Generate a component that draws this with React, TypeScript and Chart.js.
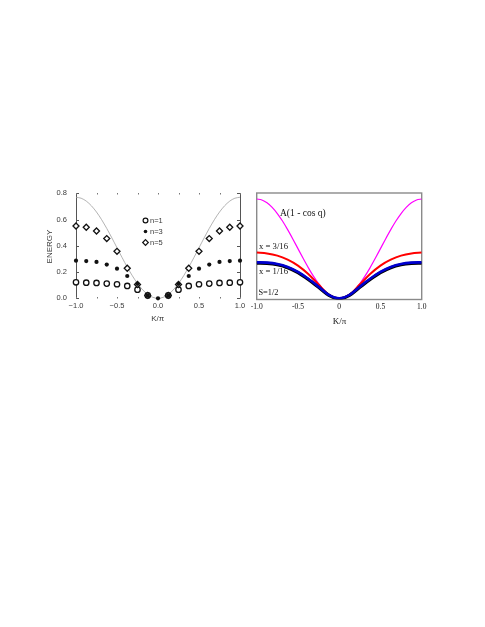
import React, { useEffect, useRef } from "react";
import { Chart, registerables } from "chart.js";
Chart.register(...registerables);

// ---------- left panel data ----------
const kPoints = [-1, -0.875, -0.75, -0.625, -0.5, -0.375, -0.25, -0.125, 0, 0.125, 0.25, 0.375, 0.5, 0.625, 0.75, 0.875, 1];
const n1Energy = [0.122, 0.119, 0.117, 0.112, 0.107, 0.094, 0.066, 0.022, null, 0.022, 0.066, 0.094, 0.107, 0.112, 0.117, 0.119, 0.122];
const n3Energy = [0.287, 0.284, 0.277, 0.257, 0.226, 0.17, 0.11, 0.022, 0.0, 0.022, 0.11, 0.17, 0.226, 0.257, 0.277, 0.284, 0.287];
const n5Energy = [0.551, 0.541, 0.513, 0.455, 0.358, 0.229, 0.105, 0.022, null, 0.022, 0.105, 0.229, 0.358, 0.455, 0.513, 0.541, 0.551];
const kFine = [-1, -0.9375, -0.875, -0.8125, -0.75, -0.6875, -0.625, -0.5625, -0.5, -0.4375, -0.375, -0.3125, -0.25, -0.1875, -0.125, -0.0625, 0,
  0.0625, 0.125, 0.1875, 0.25, 0.3125, 0.375, 0.4375, 0.5, 0.5625, 0.625, 0.6875, 0.75, 0.8125, 0.875, 0.9375, 1];
const cosCurveLeft = [0.77, 0.7626, 0.7407, 0.7051, 0.6572, 0.5989, 0.5323, 0.4601, 0.385, 0.3099, 0.2377, 0.1711, 0.1128, 0.0649, 0.0293, 0.0074, 0,
  0.0074, 0.0293, 0.0649, 0.1128, 0.1711, 0.2377, 0.3099, 0.385, 0.4601, 0.5323, 0.5989, 0.6572, 0.7051, 0.7407, 0.7626, 0.77];
const leftXTicks = [-1, -0.5, 0, 0.5, 1];
const leftYTicks = [0, 0.2, 0.4, 0.6, 0.8];
const leftMinorX = [-0.75, -0.25, 0.25, 0.75];
const legendLabels = ["n=1", "n=3", "n=5"];

// ---------- right panel data ----------
const cosCurveRight = [0.943, 0.9339, 0.9071, 0.8635, 0.8049, 0.7335, 0.6519, 0.5635, 0.4715, 0.3795, 0.2911, 0.2095, 0.1381, 0.0795, 0.0359, 0.0091, 0,
  0.0091, 0.0359, 0.0795, 0.1381, 0.2095, 0.2911, 0.3795, 0.4715, 0.5635, 0.6519, 0.7335, 0.8049, 0.8635, 0.9071, 0.9339, 0.943];
const x316 = [0.434, 0.426, 0.405, 0.366, 0.31, 0.23, 0.13, 0.035, 0, 0.035, 0.13, 0.23, 0.31, 0.366, 0.405, 0.426, 0.434];
const x116 = [0.341, 0.338, 0.325, 0.297, 0.25, 0.185, 0.11, 0.032, 0, 0.032, 0.11, 0.185, 0.25, 0.297, 0.325, 0.338, 0.341];
const x116Under = [0.334, 0.331, 0.318, 0.29, 0.243, 0.178, 0.104, 0.028, -0.004, 0.028, 0.104, 0.178, 0.243, 0.29, 0.318, 0.331, 0.334];
const rightXTicks = [-1, -0.5, 0, 0.5, 1];

const SANS = '"Liberation Sans", Arial, Helvetica, sans-serif';
const SERIF = '"Liberation Serif", "Times New Roman", serif';
const GRAY_TEXT = "#3a3a3a";

function pts(xs: number[], ys: (number | null)[]) {
  const out: { x: number; y: number }[] = [];
  xs.forEach((x, i) => {
    const y = ys[i];
    if (y !== null && y !== undefined) out.push({ x, y });
  });
  return out;
}

function line(ctx: CanvasRenderingContext2D, x1: number, y1: number, x2: number, y2: number) {
  ctx.beginPath();
  ctx.moveTo(x1, y1);
  ctx.lineTo(x2, y2);
  ctx.stroke();
}

const leftDecor = {
  id: "leftDecor",
  beforeDatasetsDraw(chart: any) {
    const { ctx, scales } = chart;
    const x = scales.x, y = scales.y;
    const xl = x.getPixelForValue(-1), xr = x.getPixelForValue(1);
    const yt = y.getPixelForValue(0.8), yb = y.getPixelForValue(0);
    ctx.save();
    ctx.strokeStyle = "#555";
    ctx.lineWidth = 1;
    line(ctx, Math.round(xl) + 0.5, yt, Math.round(xl) + 0.5, yb);
    line(ctx, Math.round(xr) + 0.5, yt, Math.round(xr) + 0.5, yb);
    leftYTicks.forEach((v) => {
      const py = Math.round(y.getPixelForValue(v)) + 0.5;
      line(ctx, xl, py, xl + 3, py);
      line(ctx, xr - 3, py, xr, py);
    });
    ctx.fillStyle = "#777";
    [...leftXTicks, ...leftMinorX].forEach((v) => {
      const px = Math.round(x.getPixelForValue(v));
      ctx.fillRect(px, Math.round(yt), 1, 1.5);
      ctx.fillRect(px, Math.round(yb) - 1, 1, 1.5);
    });
    ctx.restore();
  },
  afterDraw(chart: any) {
    const { ctx } = chart;
    ctx.save();
    ctx.fillStyle = GRAY_TEXT;
    ctx.textAlign = "center";
    ctx.textBaseline = "middle";
    ctx.font = `8px ${SANS}`;
    ctx.fillText("K/\u03c0", 157.8, 318.5);
    ctx.translate(49.5, 246.5);
    ctx.rotate(-Math.PI / 2);
    ctx.fillText("ENERGY", 0, 0);
    ctx.restore();

    // legend
    ctx.save();
    const lx = 145.5;
    const ly = [220.5, 231.5, 242.5];
    ctx.strokeStyle = "#111";
    ctx.fillStyle = "#111";
    ctx.lineWidth = 1.2;
    ctx.beginPath();
    ctx.arc(lx, ly[0], 2.4, 0, Math.PI * 2);
    ctx.stroke();
    ctx.beginPath();
    ctx.arc(lx, ly[1], 1.8, 0, Math.PI * 2);
    ctx.fill();
    ctx.beginPath();
    ctx.moveTo(lx, ly[2] - 2.8);
    ctx.lineTo(lx + 2.8, ly[2]);
    ctx.lineTo(lx, ly[2] + 2.8);
    ctx.lineTo(lx - 2.8, ly[2]);
    ctx.closePath();
    ctx.stroke();
    ctx.fillStyle = GRAY_TEXT;
    ctx.font = `7.5px ${SANS}`;
    ctx.textAlign = "left";
    ctx.textBaseline = "middle";
    legendLabels.forEach((t, i) => ctx.fillText(t, 150, ly[i]));
    ctx.restore();
  },
};

const rightDecor = {
  id: "rightDecor",
  beforeDatasetsDraw(chart: any) {
    const { ctx, chartArea } = chart;
    ctx.save();
    ctx.strokeStyle = "#8a8a8a";
    ctx.lineWidth = 1.4;
    ctx.strokeRect(chartArea.left, chartArea.top, chartArea.right - chartArea.left, chartArea.bottom - chartArea.top);
    ctx.restore();
  },
  afterDraw(chart: any) {
    const { ctx } = chart;
    ctx.save();
    ctx.fillStyle = "#111";
    ctx.textBaseline = "middle";
    ctx.textAlign = "left";
    ctx.font = `9.5px ${SERIF}`;
    ctx.fillText("A(1 - cos q)", 280 - 245, 213);
    ctx.font = `8.7px ${SERIF}`;
    ctx.fillText("x = 3/16", 259 - 245, 246.5);
    ctx.fillText("x = 1/16", 259 - 245, 271.5);
    ctx.font = `8.3px ${SERIF}`;
    ctx.fillText("S=1/2", 258.5 - 245, 293.3);
    ctx.textAlign = "center";
    ctx.font = `9px ${SERIF}`;
    ctx.fillText("K/\u03c0", 339.5 - 245, 321.5);
    ctx.restore();
  },
};

export default function App() {
  const leftRef = useRef<HTMLCanvasElement | null>(null);
  const rightRef = useRef<HTMLCanvasElement | null>(null);

  useEffect(() => {
    const left = new Chart(leftRef.current as HTMLCanvasElement, {
      type: "scatter",
      data: {
        datasets: [
          {
            label: "n=3",
            data: pts(kPoints, n3Energy),
            pointStyle: "circle",
            pointRadius: 2.1,
            pointBorderWidth: 0,
            pointBorderColor: "#111",
            pointBackgroundColor: "#111",
            showLine: false,
            clip: false,
          } as any,
          {
            label: "n=5",
            data: pts(kPoints, n5Energy),
            pointStyle: "rectRot",
            pointRadius: 3,
            pointBorderWidth: 1.3,
            pointBorderColor: "#111",
            pointBackgroundColor: "#fff",
            showLine: false,
            clip: false,
          } as any,
          {
            label: "n=1",
            data: pts(kPoints, n1Energy),
            pointStyle: "circle",
            pointRadius: 2.7,
            pointBorderWidth: 1.3,
            pointBorderColor: "#111",
            pointBackgroundColor: "#fff",
            showLine: false,
            clip: false,
          } as any,
          {
            label: "A(1-cos q)",
            data: pts(kFine, cosCurveLeft),
            showLine: true,
            pointRadius: 0,
            borderColor: "#a0a0a0",
            borderWidth: 0.8,
            tension: 0.3,
            clip: false,
          } as any,
        ],
      },
      options: {
        animation: false,
        responsive: false,
        maintainAspectRatio: false,
        devicePixelRatio: 1,
        layout: { padding: { left: 56, right: 10, top: 193.3, bottom: 11.7 } },
        plugins: { legend: { display: false }, tooltip: { enabled: false } },
        scales: {
          x: {
            type: "linear",
            min: -1,
            max: 1,
            afterBuildTicks: (s: any) => {
              s.ticks = leftXTicks.map((v) => ({ value: v }));
            },
            afterFit: (s: any) => {
              s.height = 30;
            },
            grid: { display: false, drawTicks: false },
            border: { display: false },
            ticks: {
              padding: 3.2,
              color: GRAY_TEXT,
              font: { family: SANS, size: 7.5 },
              maxRotation: 0,
              autoSkip: false,
              callback: (v: any) => Number(v).toFixed(1).replace("-", "\u2212"),
            },
          },
          y: {
            type: "linear",
            min: 0,
            max: 0.8,
            afterBuildTicks: (s: any) => {
              s.ticks = leftYTicks.map((v) => ({ value: v }));
            },
            afterFit: (s: any) => {
              s.width = 20;
            },
            grid: { display: false, drawTicks: false },
            border: { display: false },
            ticks: {
              padding: 9,
              color: GRAY_TEXT,
              font: { family: SANS, size: 7.5 },
              callback: (v: any) => Number(v).toFixed(1),
            },
          },
        },
      } as any,
      plugins: [leftDecor],
    });

    const right = new Chart(rightRef.current as HTMLCanvasElement, {
      type: "scatter",
      data: {
        datasets: [
          {
            label: "x = 1/16",
            data: pts(kPoints, x116),
            showLine: true,
            pointRadius: 0,
            borderColor: "#0000d0",
            borderWidth: 2.6,
            cubicInterpolationMode: "monotone",
          } as any,
          {
            label: "x = 1/16 (under)",
            data: pts(kPoints, x116Under),
            showLine: true,
            pointRadius: 0,
            borderColor: "#000000",
            borderWidth: 3.2,
            cubicInterpolationMode: "monotone",
          } as any,
          {
            label: "x = 3/16",
            data: pts(kPoints, x316),
            showLine: true,
            pointRadius: 0,
            borderColor: "#ff0000",
            borderWidth: 2,
            cubicInterpolationMode: "monotone",
          } as any,
          {
            label: "A(1 - cos q)",
            data: pts(kFine, cosCurveRight),
            showLine: true,
            pointRadius: 0,
            borderColor: "#ff00ff",
            borderWidth: 1.2,
            cubicInterpolationMode: "monotone",
          } as any,
        ],
      },
      options: {
        animation: false,
        responsive: false,
        maintainAspectRatio: false,
        devicePixelRatio: 1,
        layout: { padding: { left: 11.7, right: 63.3, top: 193, bottom: 10.5 } },
        plugins: { legend: { display: false }, tooltip: { enabled: false } },
        scales: {
          x: {
            type: "linear",
            min: -1,
            max: 1,
            afterBuildTicks: (s: any) => {
              s.ticks = rightXTicks.map((v) => ({ value: v }));
            },
            afterFit: (s: any) => {
              s.height = 30;
            },
            grid: { display: false, drawTicks: false },
            border: { display: false },
            ticks: {
              padding: 3,
              color: "#111",
              font: { family: SERIF, size: 7.5 },
              maxRotation: 0,
              autoSkip: false,
              callback: (v: any) => (Number(v) === 0 ? "0" : Number(v).toFixed(1)),
            },
          },
          y: {
            type: "linear",
            display: false,
            min: -0.012,
            max: 1,
          },
        },
      } as any,
      plugins: [rightDecor],
    });

    return () => {
      left.destroy();
      right.destroy();
    };
  }, []);

  return (
    <div style={{ position: "relative", width: 485, height: 627 }}>
      <canvas
        ref={leftRef}
        width={250}
        height={340}
        style={{ position: "absolute", left: -8, top: -8, width: 250, height: 340 }}
      />
      <canvas
        ref={rightRef}
        width={240}
        height={340}
        style={{ position: "absolute", left: 237, top: -8, width: 240, height: 340 }}
      />
    </div>
  );
}
